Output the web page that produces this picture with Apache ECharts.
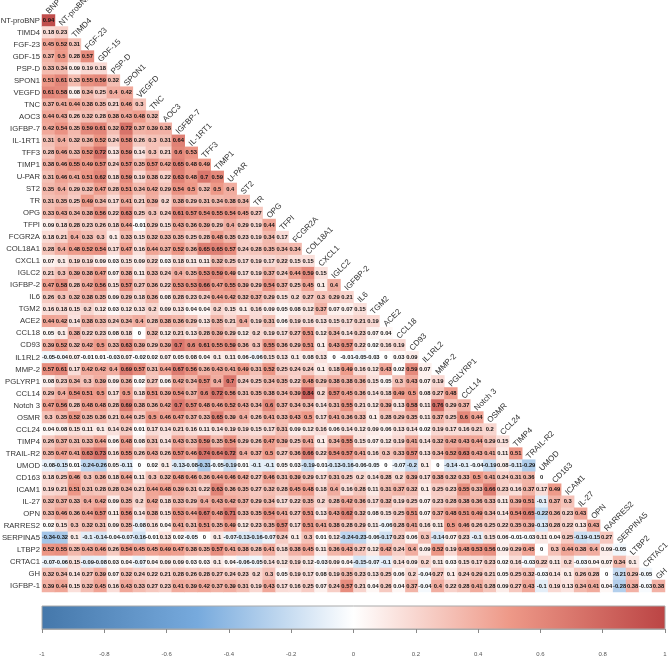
<!DOCTYPE html>
<html>
<head>
<meta charset="utf-8">
<script src="https://cdn.jsdelivr.net/npm/echarts@6/dist/echarts.min.js"></script>
<style>html,body{margin:0;padding:0;background:#fff}#c{width:669px;height:657px}</style>
</head>
<body>
<div id="c"></div>
<script>
const columns = ["BNP","NT-proBNP","TIMD4","FGF-23","GDF-15","PSP-D","SPON1","VEGFD","TNC","AOC3","IGFBP-7","IL-1RT1","TFF3","TIMP1","U-PAR","ST2","TR","OPG","TFPI","FCGR2A","COL18A1","CXCL1","IGLC2","IGFBP-2","IL6","TGM2","ACE2","CCL18","CD93","IL1RL2","MMP-2","PGLYRP1","CCL14","Notch 3","OSMR","CCL24","TIMP4","TRAIL-R2","UMOD","CD163","ICAM1","IL-27","OPN","RARRES2","SERPINA5","LTBP2","CRTAC1","GH"];
const rowNames = ["NT-proBNP","TIMD4","FGF-23","GDF-15","PSP-D","SPON1","VEGFD","TNC","AOC3","IGFBP-7","IL-1RT1","TFF3","TIMP1","U-PAR","ST2","TR","OPG","TFPI","FCGR2A","COL18A1","CXCL1","IGLC2","IGFBP-2","IL6","TGM2","ACE2","CCL18","CD93","IL1RL2","MMP-2","PGLYRP1","CCL14","Notch 3","OSMR","CCL24","TIMP4","TRAIL-R2","UMOD","CD163","ICAM1","IL-27","OPN","RARRES2","SERPINA5","LTBP2","CRTAC1","GH","IGFBP-1"];
const scaleColors = ["#4477AA","#77AADD","#FFFFFF","#EE9988","#BB4444"];
const scaleRange = [-1, 1];

const r00 = [0.94];
const r01 = [0.18,0.23];
const r02 = [0.45,0.52,0.31];
const r03 = [0.37,0.5,0.28,0.57];
const r04 = [0.33,0.34,0.09,0.19,0.18];
const r05 = [0.51,0.61,0.33,0.55,0.59,0.32];
const r06 = [0.61,0.58,0.08,0.34,0.25,0.4,0.42];
const r07 = [0.37,0.41,0.44,0.38,0.35,0.21,0.46,0.3];
const r08 = [0.44,0.43,0.26,0.32,0.28,0.38,0.43,0.48,0.32];
const r09 = [0.42,0.54,0.35,0.59,0.61,0.32,0.72,0.37,0.39,0.38];
const r10 = [0.31,0.4,0.32,0.36,0.52,0.24,0.58,0.26,0.3,0.31,0.64];
const r11 = [0.28,0.46,0.33,0.52,0.72,0.13,0.59,0.14,0.3,0.21,0.6,0.53];
const r12 = [0.38,0.46,0.55,0.49,0.57,0.24,0.57,0.35,0.57,0.42,0.65,0.48,0.49];
const r13 = [0.31,0.46,0.41,0.51,0.62,0.18,0.59,0.19,0.38,0.22,0.63,0.48,0.7,0.59];
const r14 = [0.35,0.4,0.29,0.32,0.47,0.28,0.51,0.34,0.42,0.29,0.54,0.5,0.32,0.5,0.4];
const r15 = [0.31,0.35,0.25,0.49,0.34,0.17,0.41,0.21,0.39,0.2,0.38,0.29,0.31,0.34,0.38,0.34];
const r16 = [0.33,0.43,0.34,0.38,0.56,0.22,0.63,0.25,0.3,0.24,0.61,0.57,0.54,0.55,0.54,0.45,0.27];
const r17 = [0.09,0.18,0.28,0.23,0.26,0.18,0.44,-0.01,0.29,0.15,0.43,0.36,0.39,0.29,0.4,0.29,0.19,0.44];
const r18 = [0.18,0.21,0.4,0.33,0.3,0.1,0.33,0.15,0.32,0.33,0.35,0.25,0.28,0.48,0.35,0.23,0.19,0.34,0.17];
const r19 = [0.28,0.4,0.48,0.52,0.54,0.17,0.47,0.16,0.44,0.37,0.52,0.36,0.65,0.65,0.57,0.24,0.28,0.35,0.34,0.34];
const r20 = [0.07,0.1,0.19,0.19,0.09,0.03,0.15,0.09,0.22,0.03,0.18,0.11,0.11,0.32,0.25,0.17,0.19,0.17,0.22,0.15,0.15];
const r21 = [0.21,0.3,0.39,0.38,0.47,0.07,0.38,0.11,0.33,0.24,0.4,0.35,0.53,0.59,0.49,0.17,0.19,0.37,0.24,0.44,0.59,0.15];
const r22 = [0.47,0.58,0.28,0.42,0.56,0.15,0.57,0.27,0.36,0.22,0.53,0.53,0.66,0.47,0.55,0.39,0.29,0.54,0.37,0.25,0.45,0.1,0.4];
const r23 = [0.26,0.3,0.32,0.38,0.35,0.09,0.29,0.18,0.36,0.08,0.28,0.23,0.24,0.44,0.42,0.32,0.37,0.29,0.15,0.2,0.27,0.3,0.29,0.21];
const r24 = [0.16,0.18,0.15,0.2,0.12,0.03,0.12,0.13,0.2,0.09,0.13,0.04,0.04,0.2,0.15,0.1,0.16,0.09,0.05,0.08,0.12,0.37,0.07,0.07,0.15];
const r25 = [0.44,0.42,0.14,0.38,0.33,0.24,0.34,0.4,0.28,0.38,0.36,0.29,0.13,0.35,0.21,0.4,0.19,0.31,0.06,0.19,0.16,0.13,0.15,0.17,0.21,0.19];
const r26 = [0.05,0.1,0.38,0.22,0.23,0.08,0.18,0,0.32,0.12,0.21,0.13,0.28,0.39,0.29,0.12,0.2,0.19,0.17,0.27,0.51,0.12,0.34,0.14,0.23,0.07,0.04];
const r27 = [0.39,0.52,0.32,0.42,0.5,0.33,0.63,0.39,0.29,0.39,0.7,0.6,0.61,0.55,0.59,0.36,0.3,0.55,0.36,0.29,0.51,0.1,0.43,0.57,0.22,0.02,0.16,0.19];
const r28 = [-0.05,-0.04,0.07,-0.01,0.01,-0.03,0.07,-0.02,0.02,0.07,0.05,0.08,0.04,0.1,0.11,0.06,-0.06,0.15,0.13,0.1,0.08,0.13,0,-0.01,-0.05,-0.03,0,0.03,0.09];
const r29 = [0.57,0.61,0.17,0.42,0.42,0.4,0.69,0.57,0.31,0.44,0.67,0.56,0.36,0.43,0.41,0.49,0.31,0.52,0.25,0.24,0.24,0.1,0.18,0.49,0.16,0.12,0.43,0.02,0.59,0.07];
const r30 = [0.08,0.23,0.34,0.3,0.39,0.09,0.36,0.02,0.27,0.06,0.42,0.34,0.57,0.4,0.7,0.24,0.25,0.34,0.35,0.22,0.48,0.29,0.38,0.38,0.36,0.15,0.05,0.3,0.43,0.07,0.19];
const r31 = [0.29,0.4,0.54,0.51,0.5,0.17,0.5,0.18,0.51,0.39,0.54,0.37,0.6,0.72,0.56,0.31,0.35,0.38,0.34,0.39,0.84,0.2,0.57,0.45,0.36,0.14,0.18,0.49,0.5,0.08,0.27,0.48];
const r32 = [0.47,0.56,0.28,0.48,0.48,0.28,0.69,0.38,0.36,0.42,0.7,0.57,0.48,0.46,0.52,0.43,0.34,0.6,0.37,0.34,0.34,0.14,0.31,0.55,0.21,0.12,0.39,0.13,0.58,0.11,0.76,0.29,0.37];
const r33 = [0.3,0.35,0.52,0.35,0.36,0.21,0.44,0.25,0.5,0.46,0.47,0.37,0.33,0.65,0.39,0.4,0.26,0.41,0.33,0.43,0.5,0.17,0.41,0.36,0.33,0.1,0.28,0.29,0.35,0.11,0.37,0.25,0.6,0.44];
const r34 = [0.04,0.08,0.15,0.11,0.1,0.14,0.24,0.01,0.17,0.14,0.21,0.16,0.11,0.14,0.19,0.19,0.15,0.17,0.31,0.09,0.12,0.16,0.06,0.14,0.12,0.09,0.06,0.13,0.14,0.02,0.19,0.17,0.16,0.21,0.2];
const r35 = [0.26,0.37,0.31,0.33,0.44,0.06,0.48,0.08,0.31,0.14,0.43,0.33,0.59,0.35,0.54,0.29,0.26,0.47,0.39,0.25,0.41,0.1,0.34,0.55,0.15,0.07,0.12,0.19,0.41,0.14,0.32,0.42,0.43,0.44,0.29,0.15];
const r36 = [0.35,0.47,0.41,0.63,0.73,0.16,0.55,0.26,0.43,0.26,0.57,0.46,0.74,0.64,0.72,0.4,0.37,0.5,0.27,0.36,0.66,0.22,0.54,0.57,0.41,0.16,0.3,0.33,0.57,0.13,0.34,0.52,0.63,0.43,0.41,0.11,0.51];
const r37 = [-0.08,-0.15,0.01,-0.24,-0.26,0.05,-0.11,0,0.02,0.1,-0.13,-0.08,-0.31,-0.05,-0.19,0.01,-0.1,-0.1,0.05,0.03,-0.19,-0.01,-0.13,-0.16,-0.06,-0.05,0,-0.07,-0.2,0.1,0,-0.14,-0.1,-0.04,-0.19,0.08,-0.11,-0.29];
const r38 = [0.18,0.25,0.46,0.3,0.36,0.18,0.44,0.11,0.3,0.32,0.48,0.46,0.36,0.44,0.46,0.42,0.27,0.46,0.31,0.39,0.29,0.17,0.31,0.25,0.2,0.14,0.28,0.2,0.39,0.17,0.38,0.32,0.33,0.5,0.41,0.24,0.31,0.36,0];
const r39 = [0.19,0.21,0.51,0.31,0.28,0.28,0.34,0.21,0.44,0.48,0.39,0.31,0.22,0.63,0.36,0.35,0.27,0.32,0.28,0.45,0.48,0.18,0.4,0.16,0.28,0.11,0.31,0.37,0.32,0.1,0.25,0.23,0.55,0.33,0.66,0.23,0.16,0.37,0.17,0.49];
const r40 = [0.32,0.37,0.33,0.4,0.42,0.09,0.35,0.2,0.42,0.18,0.33,0.29,0.4,0.43,0.42,0.37,0.29,0.34,0.17,0.22,0.35,0.2,0.28,0.42,0.36,0.17,0.32,0.19,0.25,0.07,0.23,0.28,0.38,0.36,0.33,0.11,0.39,0.51,-0.1,0.37,0.3];
const r41 = [0.33,0.46,0.36,0.44,0.57,0.11,0.56,0.14,0.38,0.15,0.53,0.44,0.67,0.48,0.71,0.33,0.35,0.54,0.41,0.27,0.51,0.13,0.43,0.62,0.32,0.08,0.15,0.25,0.51,0.07,0.37,0.48,0.51,0.49,0.34,0.14,0.54,0.65,-0.22,0.36,0.23,0.43];
const r42 = [0.02,0.15,0.3,0.32,0.31,0.09,0.35,-0.08,0.16,0.04,0.41,0.31,0.51,0.35,0.49,0.12,0.23,0.35,0.57,0.17,0.51,0.41,0.38,0.28,0.29,0.11,-0.06,0.28,0.41,0.16,0.11,0.5,0.46,0.26,0.25,0.22,0.35,0.39,-0.13,0.28,0.22,0.13,0.43];
const r43 = [-0.34,-0.32,0.1,-0.1,-0.14,-0.04,-0.07,-0.16,-0.01,0.13,0.02,-0.05,0,0.1,-0.07,-0.13,-0.16,-0.07,0.24,0.1,0.3,0.01,0.12,-0.24,-0.23,-0.06,-0.17,0.23,0.06,0.3,-0.14,0.07,0.23,-0.1,0.15,0.06,-0.01,-0.03,0.11,0.04,0.25,-0.19,-0.15,0.27];
const r44 = [0.52,0.55,0.35,0.43,0.46,0.26,0.54,0.45,0.45,0.49,0.47,0.38,0.35,0.57,0.41,0.38,0.28,0.41,0.18,0.38,0.45,0.11,0.36,0.43,0.27,0.12,0.42,0.24,0.4,0.09,0.52,0.19,0.48,0.53,0.56,0.09,0.29,0.45,0,0.3,0.44,0.38,0.4,0.09,-0.05];
const r45 = [-0.07,-0.06,0.15,-0.09,-0.08,0.03,0.04,-0.07,0.04,0.09,0.09,0.03,0.03,0.1,0.04,-0.06,-0.05,0.14,0.12,0.19,0.12,-0.03,0.09,0.04,-0.15,-0.07,-0.1,0.14,0.09,0.2,0.11,0.03,0.15,0.17,0.23,0.02,0.16,-0.03,0.22,0.11,0.2,-0.03,0.04,0.07,0.34,0.1];
const r46 = [0.32,0.34,0.14,0.27,0.39,0.07,0.32,0.24,0.22,0.21,0.28,0.26,0.28,0.27,0.24,0.23,0.2,0.3,0.05,0.19,0.17,0.08,0.19,0.35,0.23,0.13,0.25,0.06,0.2,-0.04,0.27,0.1,0.24,0.29,0.21,0.05,0.25,0.32,-0.03,0.14,0.1,0.26,0.28,0,-0.21,0.29,-0.05];
const r47 = [0.39,0.44,0.15,0.32,0.45,0.16,0.43,0.33,0.27,0.23,0.41,0.39,0.42,0.37,0.39,0.31,0.19,0.43,0.17,0.16,0.25,0.07,0.24,0.57,0.21,0.04,0.26,0.04,0.37,-0.04,0.4,0.22,0.28,0.41,0.28,0.09,0.27,0.43,-0.1,0.19,0.13,0.34,0.41,0.04,-0.28,0.38,-0.03,0.38];
const rows = [r00,r01,r02,r03,r04,r05,r06,r07,r08,r09,r10,r11,r12,r13,r14,r15,r16,r17,r18,r19,r20,r21,r22,r23,r24,r25,r26,r27,r28,r29,r30,r31,r32,r33,r34,r35,r36,r37,r38,r39,r40,r41,r42,r43,r44,r45,r46,r47];

const cells = [];
rows.forEach((vals, i) => vals.forEach((v, j) => cells.push([j, i, v])));
const FONT = '"Liberation Sans", Arial, sans-serif';

const chart = echarts.init(document.getElementById('c'), null, {renderer: 'canvas'});
chart.setOption({
  animation: false,
  backgroundColor: '#fff',
  textStyle: {fontFamily: FONT},
  grid: [
    {left: 42, top: 14.5, width: 623, height: 577.5, outerBoundsMode: 'none', containLabel: false},
    {left: 42, top: 606, width: 623, height: 23, outerBoundsMode: 'none', containLabel: false}
  ],
  xAxis: [
    {gridIndex: 0, type: 'category', data: columns, show: false},
    {gridIndex: 1, type: 'value', min: scaleRange[0], max: scaleRange[1], interval: 0.2, position: 'bottom',
     z: 10,
     splitLine: {show: false},
     axisLine: {show: true, onZero: false, lineStyle: {color: '#aaa', width: 1}},
     axisTick: {show: true, length: 4, lineStyle: {color: '#888', width: 1}},
     axisLabel: {fontSize: 6, color: '#555', margin: 22, fontFamily: FONT, showMinLabel: true, showMaxLabel: true}}
  ],
  yAxis: [
    {gridIndex: 0, type: 'category', data: rowNames, inverse: true,
     axisLine: {show: false}, axisTick: {show: false}, splitLine: {show: false},
     axisLabel: {fontSize: 7.7, color: '#333', margin: 2, interval: 0, fontFamily: FONT}},
    {gridIndex: 1, type: 'value', show: false, min: 0, max: 1}
  ],
  visualMap: {
    type: 'continuous', show: false, seriesIndex: 0, min: scaleRange[0], max: scaleRange[1],
    inRange: {color: scaleColors}
  },
  series: [
    {type: 'heatmap', xAxisIndex: 0, yAxisIndex: 0, data: cells, progressive: 0,
     itemStyle: {borderWidth: 0},
     emphasis: {disabled: true},
     label: {show: true, fontSize: 5.8, fontWeight: 'bold', color: '#111', fontFamily: FONT,
             formatter: p => String(p.value[2])}},
    {type: 'custom', xAxisIndex: 0, yAxisIndex: 0, silent: true, clip: false,
     data: columns.map((name, j) => [j, j]),
     encode: {x: 0, y: 1},
     renderItem: (params, api) => {
       const p = api.coord([api.value(0), api.value(1)]);
       const s = api.size([1, 1]);
       return {
         type: 'text', x: p[0] - 1, y: p[1] - s[1] / 2 - 2, rotation: Math.PI / 4,
         style: {text: columns[params.dataIndex], fontSize: 8, fill: '#333', fontFamily: FONT,
                 textAlign: 'left', textVerticalAlign: 'middle'}
       };
     }},
    {type: 'custom', xAxisIndex: 1, yAxisIndex: 1, silent: true,
     data: [[scaleRange[0], scaleRange[1]]],
     encode: {x: [0, 1]},
     renderItem: (params, api) => {
       const a = api.coord([api.value(0), 1]);
       const b = api.coord([api.value(1), 0]);
       return {
         type: 'rect',
         shape: {x: a[0], y: a[1], width: b[0] - a[0], height: b[1] - a[1]},
         style: {
           fill: new echarts.graphic.LinearGradient(0, 0, 1, 0,
             scaleColors.map((c, i) => ({offset: i / (scaleColors.length - 1), color: c}))),
           stroke: '#aaa', lineWidth: 1
         }
       };
     }}
  ]
});
</script>
</body>
</html>
